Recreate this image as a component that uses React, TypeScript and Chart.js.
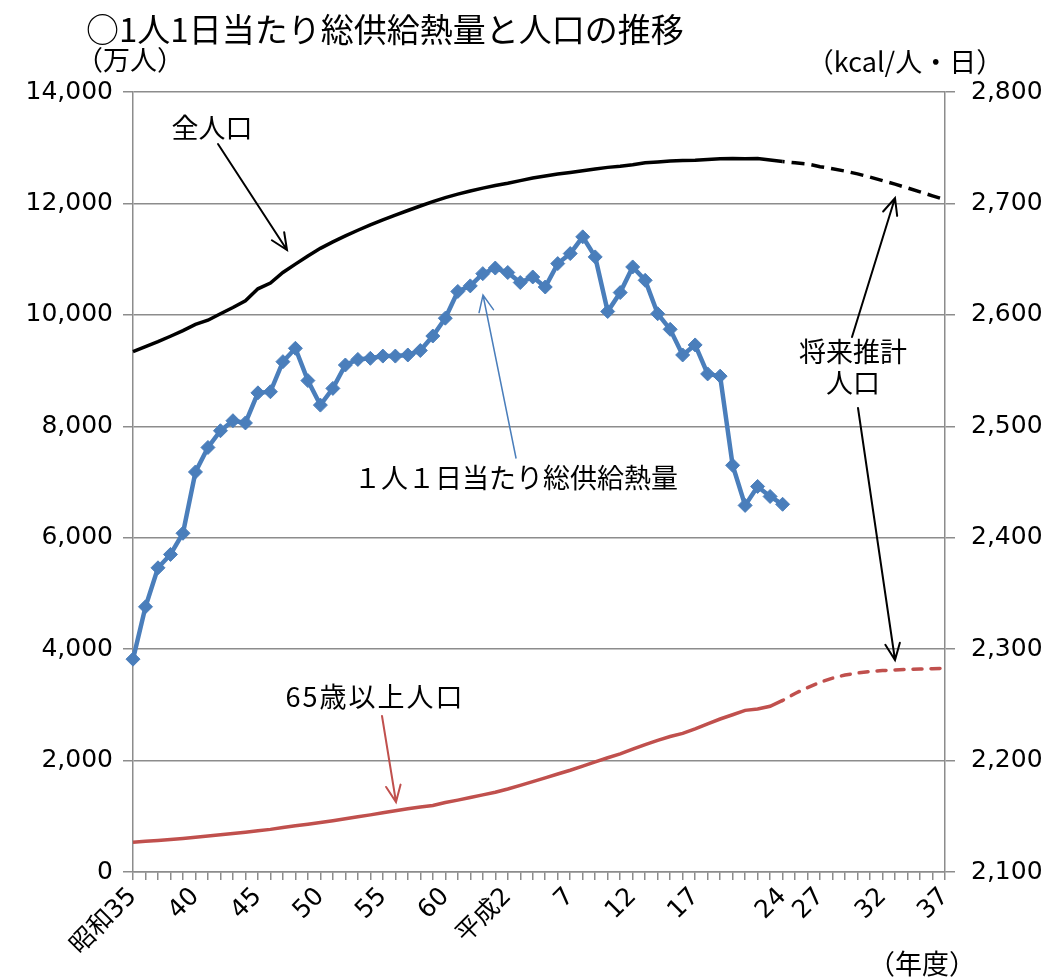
import { useEffect, useRef } from "react";
import { Chart, registerables } from "chart.js";

Chart.register(...registerables);

// 年度カテゴリ (昭和35 = 1960 ... 平成37 = 2025)
const xLabels: string[] = [
  "昭和35", "", "", "", "", "40", "", "", "", "", "45", "", "", "", "", "50",
  "", "", "", "", "55", "", "", "", "", "60", "", "", "", "", "平成2", "", "",
  "", "", "7", "", "", "", "", "12", "", "", "", "", "17", "", "", "", "", "",
  "", "24", "", "", "27", "", "", "", "", "32", "", "", "", "", "37",
];

// 全人口 (万人) 昭和35〜平成24 実績
const totalPopulation: number[] = [
  9342, 9429, 9518, 9616, 9718, 9828, 9904, 10020, 10133, 10254, 10467, 10571,
  10760, 10910, 11057, 11194, 11309, 11417, 11519, 11616, 11706, 11790, 11873,
  11954, 12031, 12105, 12166, 12224, 12275, 12321, 12361, 12410, 12457, 12494,
  12527, 12557, 12586, 12616, 12647, 12667, 12693, 12729, 12744, 12762, 12769,
  12777, 12790, 12803, 12808, 12803, 12806, 12780, 12752,
];
// 全人口 将来推計 (平成24〜平成37)
const totalPopulationProjection: number[] = [
  12752, 12730, 12708, 12660, 12622, 12580, 12530, 12473, 12410, 12346, 12278,
  12208, 12137, 12066,
];

// 65歳以上人口 (万人) 実績
const elderlyPopulation: number[] = [
  535, 550, 565, 582, 602, 624, 646, 668, 691, 714, 739, 765, 800, 830, 858,
  887, 920, 956, 990, 1025, 1065, 1098, 1135, 1168, 1195, 1247, 1290, 1337,
  1384, 1431, 1489, 1556, 1622, 1690, 1759, 1826, 1901, 1976, 2051, 2119, 2204,
  2287, 2363, 2431, 2488, 2567, 2660, 2746, 2822, 2901, 2925, 2975, 3079,
];
// 65歳以上人口 将来推計
const elderlyPopulationProjection: number[] = [
  3079, 3205, 3310, 3405, 3480, 3536, 3572, 3600, 3615, 3626, 3635, 3642, 3650,
  3657,
];

// 1人1日当たり総供給熱量 (kcal/人・日)
const calorieSupply: number[] = [
  2291, 2338, 2373, 2385, 2404, 2459, 2481, 2496, 2505, 2503, 2530, 2531, 2558,
  2570, 2541, 2519, 2534, 2555, 2560, 2561, 2563, 2563, 2564, 2568, 2581, 2597,
  2621, 2626, 2637, 2642, 2638, 2629, 2634, 2625, 2646, 2655, 2670, 2652, 2603,
  2620, 2643, 2631, 2601, 2587, 2564, 2573, 2547, 2545, 2465, 2429, 2446, 2437,
  2430,
];

const leftTicks = { min: 0, max: 14000, step: 2000 };
const rightTicks = { min: 2100, max: 2800, step: 100 };

const NUM_FONT = "'DejaVu Sans', 'Noto Sans CJK JP', sans-serif";
const JP_FONT = "'Noto Sans CJK JP', sans-serif";

const BLUE = "#4a7ebb";
const RED = "#c0504d";
const GRID = "#8c8c8c";

function padActual(arr: number[]): (number | null)[] {
  const out: (number | null)[] = xLabels.map(() => null);
  arr.forEach((v, i) => (out[i] = v));
  return out;
}
function padProjection(arr: number[]): (number | null)[] {
  const out: (number | null)[] = xLabels.map(() => null);
  const start = xLabels.length - arr.length;
  arr.forEach((v, i) => (out[start + i] = v));
  return out;
}

function drawArrow(
  ctx: CanvasRenderingContext2D,
  x1: number, y1: number, x2: number, y2: number,
  color: string, width: number, head = 18
) {
  const ang = Math.atan2(y2 - y1, x2 - x1);
  const spread = 0.42;
  ctx.save();
  ctx.strokeStyle = color;
  ctx.lineWidth = width;
  ctx.lineCap = "round";
  ctx.beginPath();
  ctx.moveTo(x1, y1);
  ctx.lineTo(x2, y2);
  ctx.moveTo(x2 - head * Math.cos(ang - spread), y2 - head * Math.sin(ang - spread));
  ctx.lineTo(x2, y2);
  ctx.lineTo(x2 - head * Math.cos(ang + spread), y2 - head * Math.sin(ang + spread));
  ctx.stroke();
  ctx.restore();
}

const overlayPlugin = {
  id: "overlay",
  afterDraw(chart: any) {
    const ctx: CanvasRenderingContext2D = chart.ctx;
    ctx.save();
    ctx.fillStyle = "#000";
    ctx.textBaseline = "middle";
    // title
    ctx.font = `33px ${JP_FONT}`;
    ctx.textAlign = "left";
    ctx.fillText("○1人1日当たり総供給熱量と人口の推移", 86, 29);
    // unit labels
    ctx.font = `27px ${JP_FONT}`;
    ctx.fillText("（万人）", 76, 60);
    ctx.textAlign = "center";
    ctx.fillText("（kcal/人・日）", 905, 62);
    ctx.fillText("（年度）", 922, 964);

    // annotations
    ctx.font = `27px ${JP_FONT}`;
    ctx.fillText("全人口", 212, 128);
    ctx.fillText("１人１日当たり総供給熱量", 516, 478);
    ctx.fillText("将来推計", 853, 352);
    ctx.fillText("人口", 853, 383);
    (ctx as any).letterSpacing = "2px";
    ctx.fillText("65歳以上人口", 375, 697);
    (ctx as any).letterSpacing = "0px";
    ctx.restore();

    drawArrow(ctx, 218, 144, 287, 250, "#000", 2);
    drawArrow(ctx, 516, 458, 483, 295, BLUE, 1.5);
    drawArrow(ctx, 852, 337, 895, 198, "#000", 2);
    drawArrow(ctx, 858, 408, 895, 660, "#000", 2);
    drawArrow(ctx, 382, 716, 396, 802, RED, 2);
  },
};

export default function App() {
  const ref = useRef<HTMLCanvasElement | null>(null);

  useEffect(() => {
    if (!ref.current) return;
    const chart = new Chart(ref.current, {
      type: "line",
      data: {
        labels: xLabels,
        datasets: [
          {
            label: "1人1日当たり総供給熱量",
            data: padActual(calorieSupply),
            yAxisID: "y2",
            borderColor: BLUE,
            backgroundColor: BLUE,
            borderWidth: 4.5,
            pointStyle: "rectRot",
            pointRadius: 7,
            pointBorderWidth: 1,
            pointBorderColor: BLUE,
            pointBackgroundColor: BLUE,
            tension: 0,
            spanGaps: false,
          },
          {
            label: "全人口",
            data: padActual(totalPopulation),
            yAxisID: "y",
            borderColor: "#000",
            borderWidth: 3.5,
            pointRadius: 0,
            tension: 0,
          },
          {
            label: "全人口（将来推計）",
            data: padProjection(totalPopulationProjection),
            yAxisID: "y",
            borderColor: "#000",
            borderWidth: 3.5,
            borderDash: [13, 7],
            borderDashOffset: -9,
            pointRadius: 0,
            tension: 0,
          },
          {
            label: "65歳以上人口",
            data: padActual(elderlyPopulation),
            yAxisID: "y",
            borderColor: RED,
            borderWidth: 3.5,
            pointRadius: 0,
            tension: 0,
          },
          {
            label: "65歳以上人口（将来推計）",
            data: padProjection(elderlyPopulationProjection),
            yAxisID: "y",
            borderColor: RED,
            borderWidth: 3.5,
            borderDash: [9, 9],
            borderDashOffset: -10,
            borderCapStyle: "round",
            pointRadius: 0,
            tension: 0,
          },
        ],
      },
      options: {
        responsive: false,
        animation: false,
        layout: { padding: { top: 92, left: 0, right: 0, bottom: 0 } },
        plugins: {
          legend: { display: false },
          tooltip: { enabled: false },
          title: { display: false },
        },
        scales: {
          x: {
            type: "category",
            offset: false,
            grid: {
              drawOnChartArea: false,
              drawTicks: true,
              tickLength: 8,
              color: GRID,
              lineWidth: 1.5,
            },
            border: { color: GRID, width: 1.5 },
            ticks: {
              autoSkip: false,
              maxRotation: 45,
              minRotation: 45,
              padding: 2,
              color: "#000",
              font: { family: NUM_FONT, size: 25 },
            },
            afterFit(scale: any) {
              scale.height = 108;
            },
          },
          y: {
            position: "left",
            min: leftTicks.min,
            max: leftTicks.max,
            ticks: {
              stepSize: leftTicks.step,
              color: "#000",
              padding: 10,
              font: { family: NUM_FONT, size: 25 },
              callback: (v: any) => Number(v).toLocaleString("en-US"),
            },
            grid: { color: GRID, lineWidth: 1.5, tickLength: 10 },
            border: { color: GRID, width: 1.5 },
            afterFit(scale: any) {
              scale.width = 133;
            },
          },
          y2: {
            position: "right",
            min: rightTicks.min,
            max: rightTicks.max,
            ticks: {
              stepSize: rightTicks.step,
              color: "#000",
              padding: 16,
              font: { family: NUM_FONT, size: 25 },
              callback: (v: any) => Number(v).toLocaleString("en-US"),
            },
            grid: { drawOnChartArea: false, color: GRID, lineWidth: 1.5, tickLength: 10 },
            border: { color: GRID, width: 1.5 },
            afterFit(scale: any) {
              scale.width = 105;
            },
          },
        },
      },
      plugins: [overlayPlugin],
    });
    return () => chart.destroy();
  }, []);

  return (
    <div style={{ position: "absolute", left: 0, top: 0, width: 1050, height: 980, background: "#fff" }}>
      <canvas ref={ref} width={1050} height={980} style={{ display: "block" }} />
    </div>
  );
}
